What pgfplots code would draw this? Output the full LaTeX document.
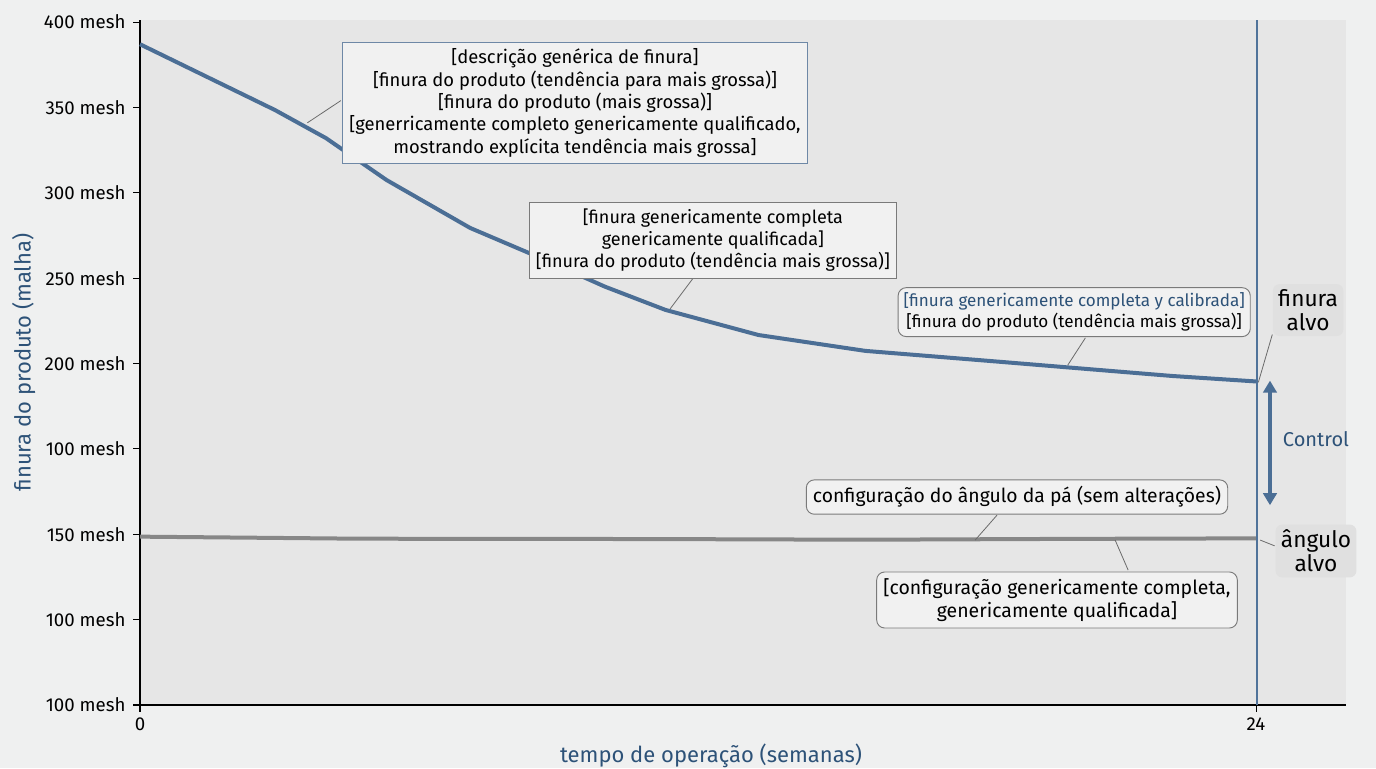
\documentclass[border=0pt]{standalone}
\usepackage{pgfplots}
\pgfplotsset{compat=1.18}
\usepackage{fontspec}
\setmainfont{Fira Sans}
\usetikzlibrary{arrows.meta}

\definecolor{bgout}{HTML}{EFF0F0}
\definecolor{bgplot}{HTML}{E6E6E6}
\definecolor{fineblue}{HTML}{4B6E95}
\definecolor{vblue}{HTML}{50739A}
\definecolor{anglegray}{HTML}{878787}
\definecolor{labblue}{HTML}{2D5278}
\definecolor{boxfill}{HTML}{F1F1F1}
\definecolor{boxblue}{HTML}{6E88A6}
\definecolor{boxgray}{HTML}{7A7A7A}
\definecolor{leader}{HTML}{6A6A6A}

% finura do produto ao longo do tempo (posicao no eixo)
\pgfplotstableread{
x y
0     387
2.9   348.5
4     332
5.3   307.5
7.1   279.4
8.6   262
10    245
11.3  231.4
13.3  216.7
15.6  207.4
18.5  201
20.5  196.5
22.2  192.7
24    189.5
}\finura

% angulo da pa (sem alteracoes), na marca "150 mesh"
\pgfplotstableread{
x y
0     98.6
4.7   97.4
11    97.2
15.6  96.8
20    97.3
24    97.6
}\angulo

\begin{document}
\fontsize{14pt}{17pt}\selectfont
\begin{tikzpicture}
\path[use as bounding box, fill=bgout] (0,0) rectangle (1032pt,576pt);
\begin{axis}[
  at={(105pt,47.25pt)}, anchor=origin,
  scale only axis,
  width=904.5pt, height=513.75pt,
  xmin=0, xmax=25.935, ymin=0, ymax=401.2,
  axis lines=left, axis line style={-, black, line width=0.8pt},
  axis background/.style={fill=bgplot},
  xtick={0,24}, xticklabels={0,24},
  ytick={0,50,...,400},
  yticklabels={100 mesh,100 mesh,150 mesh,100 mesh,200 mesh,250 mesh,300 mesh,350 mesh,400 mesh},
  tick align=outside, major tick length=5pt,
  tick style={black, line width=0.8pt},
  ticklabel style={font=\fontsize{14pt}{17pt}\selectfont, text=black},
  yticklabel style={xshift=-1pt},
  ylabel={finura do produto (malha)},
  ylabel style={font=\fontsize{16.5pt}{19pt}\selectfont, text=labblue, yshift=-3pt},
  clip=false,
]
\addplot[fineblue, line width=3pt] table {\finura};
\addplot[anglegray, line width=3pt] table {\angulo};

% linha vertical do alvo
\draw[vblue, line width=1.5pt] (axis cs:24.03,0) -- (axis cs:24.03,401.2);

% seta de controle
\draw[fineblue, line width=2.4pt, {Triangle[length=9pt,width=10pt]}-{Triangle[length=9pt,width=10pt]}]
  (axis cs:24.3,190) -- (axis cs:24.3,117);
\node[text=labblue, font=\fontsize{15pt}{18pt}\selectfont] at (axis cs:25.29,155.8) {Control};

% alvos
\draw[leader, line width=0.6pt] (axis cs:24.05,189) -- (axis cs:24.35,217);
\node[fill=black!12, rounded corners=5pt, align=center, inner sep=4pt,
  font=\fontsize{17pt}{18pt}\selectfont] at (axis cs:25.12,231.3) {finura\\alvo};
\draw[leader, line width=0.6pt] (axis cs:24.09,96.6) -- (axis cs:24.4,93.2);
\node[fill=black!12, rounded corners=5pt, align=center, inner sep=4pt,
  font=\fontsize{17pt}{18pt}\selectfont] at (axis cs:25.29,90.2) {ângulo\\alvo};

% caixas de anotacao
\draw[leader, line width=0.6pt] (axis cs:3.6,341) -- (axis cs:4.32,354);
\node[draw=boxblue, fill=boxfill, line width=0.7pt, align=center, inner sep=5pt,
  font=\fontsize{13.8pt}{16.8pt}\selectfont]
  at (axis cs:9.355,352.6)
  {{[}descrição genérica de finura]\\
   {[}finura do produto (tendência para mais grossa)]\\
   {[}finura do produto (mais grossa)]\\
   {[}generricamente completo genericamente qualificado,\\
   mostrando explícita tendência mais grossa]};

\draw[leader, line width=0.6pt] (axis cs:11.4,232) -- (axis cs:11.95,252);
\node[draw=boxgray, fill=boxfill, line width=0.7pt, align=center, inner sep=5pt,
  font=\fontsize{13.5pt}{16.5pt}\selectfont]
  at (axis cs:12.32,272.3)
  {{[}finura genericamente completa\\
   genericamente qualificada]\\
   {[}finura do produto (tendência mais grossa)]};

\draw[leader, line width=0.6pt] (axis cs:19.95,199) -- (axis cs:20.33,215);
\node[draw=boxgray, fill=boxfill, line width=0.7pt, rounded corners=6pt, align=center, inner sep=4pt,
  font=\fontsize{12.8pt}{15.5pt}\selectfont]
  at (axis cs:20.09,230.1)
  {\textcolor{labblue}{[finura genericamente completa y calibrada]}\\
   {[}finura do produto (tendência mais grossa)]};

\draw[leader, line width=0.6pt] (axis cs:17.96,96.6) -- (axis cs:18.43,111.2);
\node[draw=boxgray, fill=boxfill, line width=0.7pt, rounded corners=6pt, align=center, inner sep=5pt,
  font=\fontsize{14.5pt}{17pt}\selectfont]
  at (axis cs:18.86,121.8)
  {configuração do ângulo da pá (sem alterações)};

\draw[leader, line width=0.6pt] (axis cs:20.97,96.6) -- (axis cs:21.25,79);
\node[draw=boxgray, fill=boxfill, line width=0.7pt, rounded corners=6pt, align=center, inner sep=5pt,
  font=\fontsize{14.6pt}{17pt}\selectfont]
  at (axis cs:19.72,61.5)
  {{[}configuração genericamente completa,\\
   genericamente qualificada]};

% rotulo do eixo x
\node[text=labblue, font=\fontsize{16.5pt}{19pt}\selectfont, anchor=base]
  at (axis cs:12.28,-33.5) {tempo de operação (semanas)};
\end{axis}
\end{tikzpicture}
\end{document}
